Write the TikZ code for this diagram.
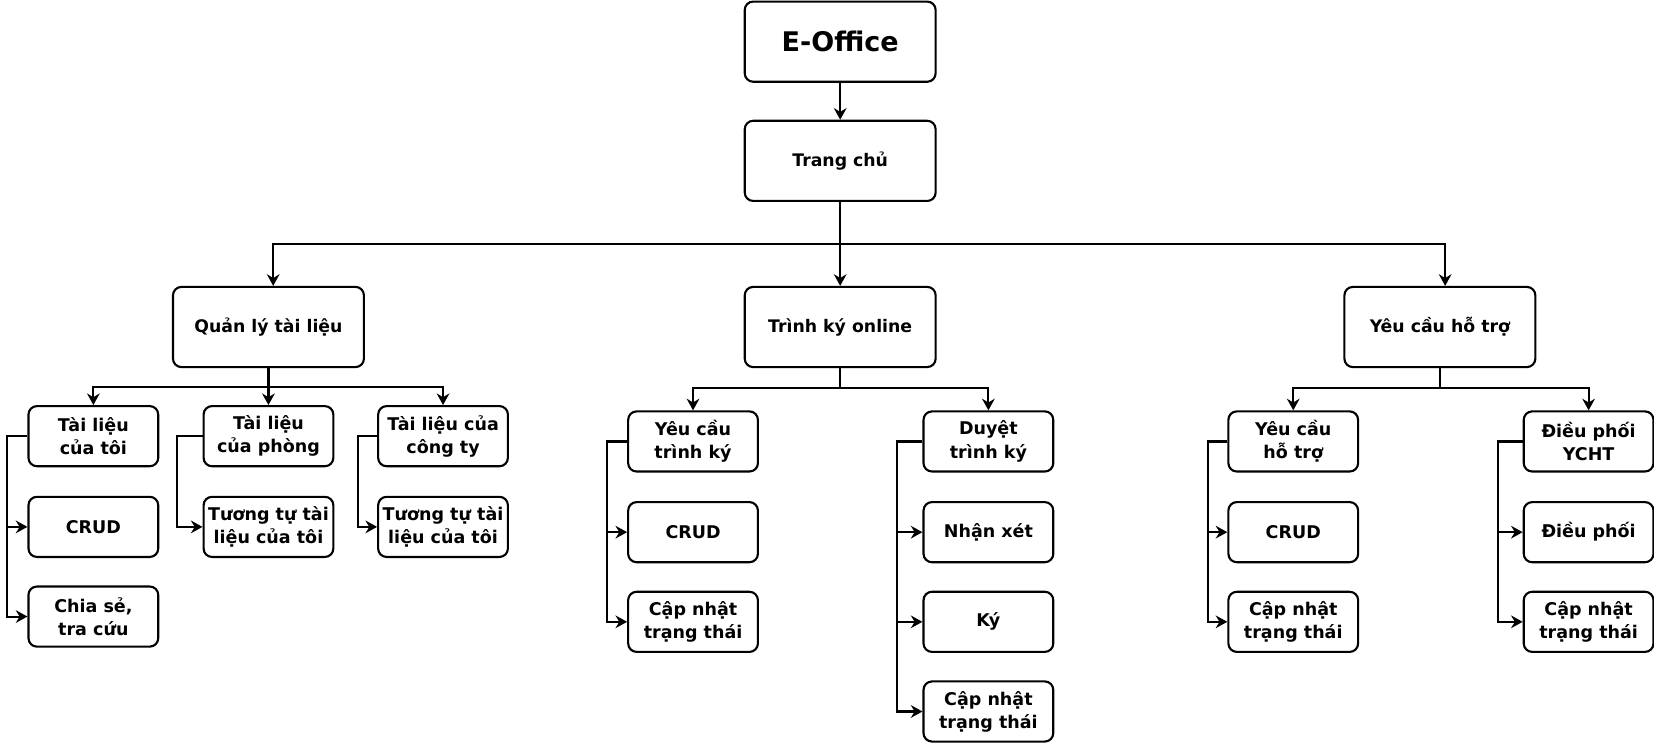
\documentclass[tikz,border=0pt]{standalone}
\usepackage{fontspec}
\setmainfont{DejaVu Sans}
\usetikzlibrary{arrows.meta,calc}
\begin{document}
\begin{tikzpicture}[x=0.5pt,y=-0.5pt,
  big/.style={draw,line width=1pt,rounded corners=4pt,minimum width=90.5pt,minimum height=38pt,align=center,inner sep=0pt,font=\bfseries\fontsize{8.2}{11}\selectfont},
  sm/.style={draw,line width=1pt,rounded corners=4pt,minimum width=61.5pt,minimum height=28.5pt,align=center,inner sep=0pt,font=\bfseries\fontsize{8.3}{11}\selectfont},
  arr/.style={line width=1pt,-{Stealth[length=5.5pt,width=6pt,inset=1.8pt]}},
  ln/.style={line width=1pt}]
\useasboundingbox (0,0) rectangle (1568,704);
% top
\node[big,font=\bfseries\fontsize{12.8}{15}\selectfont] (eo) at (796.5,39.5) {E-Office};
\node[big] (tc) at (796.5,152.5) {Trang chủ};
\node[big] (qltl) at (254.5,310) {Quản lý tài liệu};
\node[big] (tko) at (796.5,310) {Trình ký online};
\node[big] (ycht) at (1365,310) {Yêu cầu hỗ trợ};
% left group
\node[sm] (a1) at (88.5,413.5) {Tài liệu\\của tôi};
\node[sm] (a2) at (254.5,413.5) {Tài liệu\\của phòng};
\node[sm] (a3) at (420,413.5) {Tài liệu của\\công ty};
\node[sm] (a1b) at (88.5,499.5) {CRUD};
\node[sm] (a1c) at (88.5,584.5) {Chia sẻ,\\tra cứu};
\node[sm] (a2b) at (254.5,499.5) {Tương tự tài\\liệu của tôi};
\node[sm] (a3b) at (420,499.5) {Tương tự tài\\liệu của tôi};
% middle group
\node[sm] (b1) at (657,418.5) {Yêu cầu\\trình ký};
\node[sm] (b1b) at (657,504.5) {CRUD};
\node[sm] (b1c) at (657,589.5) {Cập nhật\\trạng thái};
\node[sm] (b2) at (937,418.5) {Duyệt\\trình ký};
\node[sm] (b2b) at (937,504.5) {Nhận xét};
\node[sm] (b2c) at (937,589.5) {Ký};
\node[sm] (b2d) at (937,674.5) {Cập nhật\\trạng thái};
% right group
\node[sm] (c1) at (1226,418.5) {Yêu cầu\\hỗ trợ};
\node[sm] (c1b) at (1226,504.5) {CRUD};
\node[sm] (c1c) at (1226,589.5) {Cập nhật\\trạng thái};
\node[sm] (c2) at (1506,418.5) {Điều phối\\YCHT};
\node[sm] (c2b) at (1506,504.5) {Điều phối};
\node[sm] (c2c) at (1506,589.5) {Cập nhật\\trạng thái};
% junctions
\coordinate (j1) at (796.5,231);
\coordinate (j2) at (254.5,367);
\coordinate (j3) at (796.5,368);
\coordinate (j4) at (1365,368);
% connectors
\draw[arr] (eo) -- (tc);
\draw[arr] (tc) -- (tko);
\draw[arr] (j1) -| ([xshift=2.25pt]qltl.north);
\draw[arr] (j1) -| ([xshift=2.5pt]ycht.north);
\draw[arr] (qltl) -- (a2);
\draw[arr] (j2) -| (a1.north);
\draw[arr] (j2) -| (a3.north);
\draw[arr] (tko.south) |- (j3) -| (b1.north);
\draw[arr] (j3) -| (b2.north);
\draw[arr] (ycht.south) |- (j4) -| (c1.north);
\draw[arr] (j4) -| (c2.north);
% brackets
\draw[arr] (a1.west) -- ++(-19,0) |- (a1b.west);
\draw[arr] (a1.west) -- ++(-19,0) |- (a1c.west);
\draw[arr] (a2.west) -- ++(-24,0) |- (a2b.west);
\draw[arr] (a3.west) -- ++(-18,0) |- (a3b.west);
\draw[arr] (b1.west) -- ++(-19,0) |- (b1b.west);
\draw[arr] (b1.west) -- ++(-19,0) |- (b1c.west);
\draw[arr] (b2.west) -- ++(-24,0) |- (b2b.west);
\draw[arr] (b2.west) -- ++(-24,0) |- (b2c.west);
\draw[arr] (b2.west) -- ++(-24,0) |- (b2d.west);
\draw[arr] (c1.west) -- ++(-18,0) |- (c1b.west);
\draw[arr] (c1.west) -- ++(-18,0) |- (c1c.west);
\draw[arr] (c2.west) -- ++(-23,0) |- (c2b.west);
\draw[arr] (c2.west) -- ++(-23,0) |- (c2c.west);
\end{tikzpicture}
\end{document}
